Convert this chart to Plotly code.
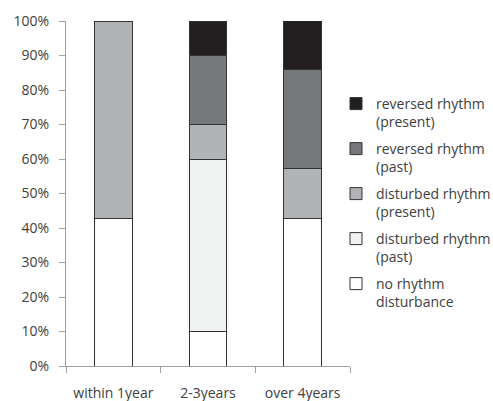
import plotly.graph_objects as go

categories = ["within 1year", "2-3years", "over 4years"]
series_names = [
    "no rhythm<br>disturbance",
    "disturbed rhythm<br>(past)",
    "disturbed rhythm<br>(present)",
    "reversed rhythm<br>(past)",
    "reversed rhythm<br>(present)",
]
no_disturbance = [42.9, 10.0, 42.9]
disturbed_past = [0.0, 50.0, 0.0]
disturbed_present = [57.1, 10.0, 14.3]
reversed_past = [0.0, 20.0, 28.6]
reversed_present = [0.0, 10.0, 14.3]
colors = ["#ffffff", "#f1f2f2", "#b1b3b6", "#77787b", "#231f20"]

values = [no_disturbance, disturbed_past, disturbed_present, reversed_past, reversed_present]

W, H = 493, 401
font_family = "'Open Sans', Lato, sans-serif"

# one legend per series (top entry = last series), spaced like the reference
legend_ids = ["legend5", "legend4", "legend3", "legend2", "legend"]
legend_top_px = [268, 223, 178, 133, 88]

fig = go.Figure()
for name, vals, col, lid in zip(series_names, values, colors, legend_ids):
    fig.add_trace(go.Bar(
        x=categories, y=vals, name=name, width=0.4, legend=lid, showlegend=True,
        marker=dict(color=col, line=dict(color="#333333", width=1)),
    ))

legend_layouts = {}
for lid, top in zip(legend_ids, legend_top_px):
    legend_layouts[lid] = dict(
        xref="container", yref="container",
        x=336 / W, xanchor="left", y=1 - top / H, yanchor="top",
        font=dict(size=14, color="#404040"),
        itemwidth=30, valign="top", bgcolor="rgba(0,0,0,0)",
    )

fig.update_layout(
    barmode="stack",
    showlegend=True,
    width=W, height=H,
    margin=dict(l=66, r=143, t=21, b=35, autoexpand=False),
    plot_bgcolor="white", paper_bgcolor="white",
    font=dict(family=font_family, size=14, color="#404040"),
    xaxis=dict(
        showline=True, linecolor="#a0a0a0", linewidth=1,
        ticks="outside", tickson="boundaries", ticklen=6, tickcolor="#a0a0a0",
        ticklabelstandoff=14, tickangle=0, automargin=False,
        showgrid=False,
    ),
    yaxis=dict(
        range=[0, 100], dtick=10, ticksuffix="%",
        showline=True, linecolor="#a0a0a0", linewidth=1,
        ticks="outside", ticklen=6, tickcolor="#a0a0a0",
        ticklabelstandoff=7, automargin=False,
        showgrid=False, zeroline=False,
    ),
    **legend_layouts,
)

fig.write_html("out.html", config={"displayModeBar": False},
               post_script="document.body.style.margin='0px';")
